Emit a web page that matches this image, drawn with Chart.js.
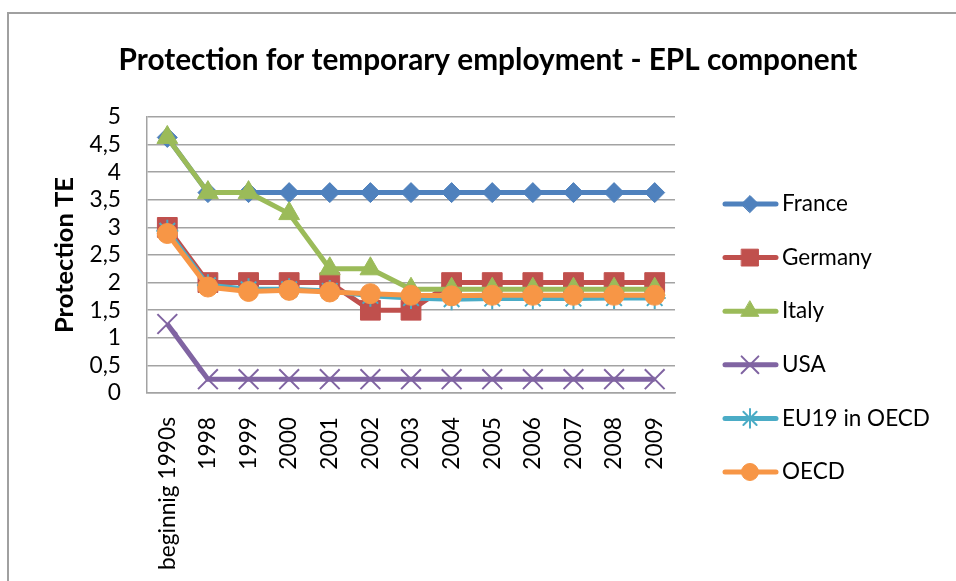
<!DOCTYPE html>
<html><head><meta charset="utf-8">
<script src="https://cdn.jsdelivr.net/npm/chart.js@4.4.1/dist/chart.umd.min.js"></script>
<style>html,body{margin:0;padding:0;background:#fff;overflow:hidden}#wrap{position:relative;width:956px;height:581px}</style>
</head><body><div id="wrap"><canvas id="c" width="956" height="581"></canvas></div>
<script>
// ---- data ----
const categories = ['beginnig 1990s','1998','1999','2000','2001','2002','2003','2004','2005','2006','2007','2008','2009'];
const seriesNames = ['France','Germany','Italy','USA','EU19 in OECD','OECD'];
const franceValues  = [4.63,3.63,3.63,3.63,3.63,3.63,3.63,3.63,3.63,3.63,3.63,3.63,3.63];
const germanyValues = [3.0,2.0,2.0,2.0,2.0,1.5,1.5,2.0,2.0,2.0,2.0,2.0,2.0];
const italyValues   = [4.63,3.63,3.63,3.25,2.25,2.25,1.88,1.88,1.88,1.88,1.88,1.88,1.88];
const usaValues     = [1.25,0.25,0.25,0.25,0.25,0.25,0.25,0.25,0.25,0.25,0.25,0.25,0.25];
const eu19Values    = [2.94,1.95,1.88,1.88,1.85,1.76,1.72,1.70,1.71,1.71,1.71,1.72,1.72];
const oecdValues    = [2.89,1.92,1.84,1.86,1.83,1.80,1.77,1.76,1.77,1.77,1.77,1.77,1.77];
const yMin = 0, yMax = 5, yStep = 0.5;
const titleText = 'Protection for temporary employment - EPL component';
const yTitleText = 'Protection TE';

// ---- styles ----
const FAMILY = 'Lato, "Open Sans", sans-serif';
const colors = ['#4F81BD','#C0504D','#9BBB59','#8064A2','#4BACC6','#F79646'];
const pointStyles = ['rectRot','rect','triangle','crossRot','star','circle'];
const pointRadii = [10,14,12,14,11,10];
const pointBorders = [1,1,1,2,2,1];
const values = [franceValues,germanyValues,italyValues,usaValues,eu19Values,oecdValues];

function fitSize(text, weight, target){
  const c = document.createElement('canvas').getContext('2d');
  c.font = weight + ' 100px ' + FAMILY;
  return 100 * target / c.measureText(text).width;
}
const titleSize = fitSize(titleText, 'bold', 739);
const yTitleSize = fitSize(yTitleText, 'bold', 156);
const tickSize = (fitSize('beginnig 1990s', 'normal', 158) + fitSize('2009', 'normal', 51)) / 2;
const legendSize = fitSize('EU19 in OECD', 'normal', 148);
const GRID = '#a3a3a3';
const PAD_LEFT = 20;

const datasets = seriesNames.map((name,i)=>({
  label: name,
  data: values[i],
  borderColor: colors[i],
  backgroundColor: colors[i],
  borderWidth: 5,
  tension: 0,
  pointStyle: pointStyles[i],
  pointRadius: pointRadii[i],
  pointBorderWidth: pointBorders[i],
  pointBorderColor: colors[i],
  pointBackgroundColor: colors[i],
  order: seriesNames.length - i
}));

const frame = {
  id: 'frame',
  beforeDraw(chart){
    const ctx = chart.ctx;
    ctx.save();
    ctx.fillStyle = '#fff';
    ctx.fillRect(0,0,chart.width,chart.height);
    ctx.strokeStyle = '#a0a0a0';
    ctx.lineWidth = 2;
    ctx.strokeRect(8,13,chart.width+20,chart.height+20);
    ctx.restore();
  }
};

const sideLegend = {
  id: 'sideLegend',
  afterDraw(chart){
    const ctx = chart.ctx;
    const top = 204, step = 53.6, x0 = 725, x1 = 776, xm = 750, tx = 782;
    chart.data.datasets.forEach((ds,i)=>{
      const y = top + i*step;
      ctx.save();
      ctx.strokeStyle = ds.borderColor;
      ctx.fillStyle = ds.borderColor;
      ctx.lineWidth = ds.borderWidth;
      ctx.lineCap = 'round';
      ctx.beginPath(); ctx.moveTo(x0,y); ctx.lineTo(x1,y); ctx.stroke();
      ctx.lineWidth = ds.pointBorderWidth;
      Chart.helpers.drawPoint(ctx, {pointStyle: ds.pointStyle, radius: ds.pointRadius*0.85, borderWidth: ds.pointBorderWidth, rotation: 0}, xm, y);
      ctx.fillStyle = '#000';
      ctx.font = legendSize + 'px ' + FAMILY;
      ctx.textBaseline = 'middle';
      ctx.textAlign = 'left';
      ctx.fillText(ds.label, tx, y);
      ctx.restore();
    });
  }
};

const titleLH = titleSize*1.2;
const yTitleLH = yTitleSize*1.2;

new Chart(document.getElementById('c'), {
  type: 'line',
  data: { labels: categories, datasets },
  plugins: [frame, sideLegend],
  options: {
    responsive: false,
    animation: false,
    devicePixelRatio: 1,
    layout: { padding: { left: PAD_LEFT, right: 0, top: 0, bottom: 0 } },
    plugins: {
      legend: { display: false },
      tooltip: { enabled: false },
      title: {
        display: true, text: titleText, color: '#000',
        font: { family: FAMILY, size: titleSize, weight: 'bold', lineHeight: 1.2 },
        padding: { top: 60 - titleLH/2, bottom: 117 - 60 - titleLH/2 }
      }
    },
    scales: {
      x: {
        type: 'category', offset: true,
        grid: { display: false },
        border: { display: true, color: GRID, width: 1.5 },
        ticks: { autoSkip: false, minRotation: 90, maxRotation: 90, padding: 16, color: '#000',
                 font: { family: FAMILY, size: tickSize } },
        afterFit(s){ s.height = 188; }
      },
      y: {
        min: yMin, max: yMax,
        grid: { color: GRID, lineWidth: 1.5, drawTicks: false },
        border: { display: true, color: GRID, width: 1.5 },
        ticks: { stepSize: yStep, autoSkip: false, padding: 26, color: '#000',
                 font: { family: FAMILY, size: tickSize, lineHeight: 1 },
                 callback: v => String(v).replace('.', ',') },
        title: { display: true, text: yTitleText, color: '#000',
                 font: { family: FAMILY, size: yTitleSize, weight: 'bold', lineHeight: 1.2 },
                 padding: { top: 65 - PAD_LEFT - yTitleLH/2, bottom: 0 } },
        afterFit(s){ s.width = 147 - PAD_LEFT; }
      },
      legendSpace: {
        type: 'linear', position: 'right', display: true,
        grid: { display: false }, border: { display: false },
        ticks: { display: false },
        afterFit(s){ s.width = 281; }
      }
    }
  }
});
</script></body></html>
